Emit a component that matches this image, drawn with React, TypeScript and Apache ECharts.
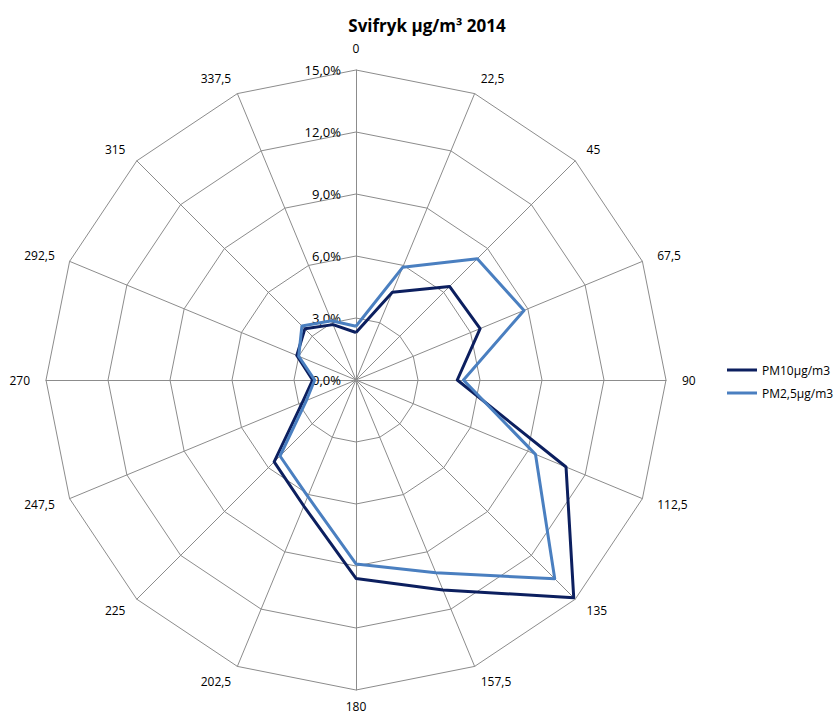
import React, { useEffect, useRef } from "react";
import * as echarts from "echarts";

const directions = ["0", "22,5", "45", "67,5", "90", "112,5", "135", "157,5", "180", "202,5", "225", "247,5", "270", "292,5", "315", "337,5"];
const pm10 = [2.3, 4.6, 6.4, 6.5, 4.9, 11.0, 14.9, 11.0, 9.6, 6.6, 5.6, 2.8, 2.1, 3.1, 3.5, 2.9];
const pm25 = [2.6, 5.9, 8.3, 8.8, 5.2, 9.4, 13.6, 10.1, 8.9, 6.1, 5.2, 2.6, 2.0, 3.0, 3.7, 3.1];
const seriesNames = ["PM10µg/m3", "PM2,5µg/m3"];
const axisMax = 15;
const titleText = "Svifryk µg/m³ 2014";

const FONT = "'Open Sans', 'Noto Sans', sans-serif";

// ECharts radar runs counter-clockwise; reorder so directions run clockwise
const order = directions.map((_, i) => (i === 0 ? 0 : directions.length - i));

export default function App() {
  const ref = useRef<HTMLDivElement>(null);
  useEffect(() => {
    document.body.style.margin = "0";
    const chart = echarts.init(ref.current!, null, { renderer: "svg" });
    chart.setOption({
      animation: false,
      backgroundColor: "#ffffff",
      title: {
        text: titleText,
        left: 422,
        top: 12,
        textAlign: "center",
        textStyle: { fontFamily: FONT, fontSize: 17, fontWeight: "bold", color: "#000" },
      },
      legend: {
        orient: "vertical",
        left: 722,
        top: 359,
        itemWidth: 30,
        itemHeight: 3,
        itemGap: 11,
        icon: "rect",
        textStyle: { fontFamily: FONT, fontSize: 12, color: "#000" },
        data: seriesNames,
      },
      radar: {
        center: [356, 380],
        radius: 310,
        startAngle: 90,
        shape: "polygon",
        splitNumber: 5,
        nameGap: 16,
        axisName: { color: "#000", fontFamily: FONT, fontSize: 12 },
        splitLine: { lineStyle: { color: "#8c8c8c", width: 1 } },
        splitArea: { show: false },
        axisLine: { lineStyle: { color: "#8c8c8c", width: 1 } },
        axisTick: { show: false },
        axisLabel: { show: false },
        indicator: order.map((k, i) => ({
          name: directions[k],
          min: 0,
          max: axisMax,
          ...(directions[k] === "180" ? { nameGap: 10 } : {}),
          ...(i === 0
            ? {
                axisLabel: {
                  show: true,
                  color: "#000",
                  fontFamily: FONT,
                  fontSize: 13,
                  margin: 15,
                  formatter: (v: number) => v.toFixed(1).replace(".", ",") + "%",
                },
              }
            : {}),
        })),
      },
      series: [
        {
          type: "radar",
          symbol: "none",
          data: [
            { name: seriesNames[0], value: order.map((k) => pm10[k]), lineStyle: { color: "#0c1f5f", width: 3 }, itemStyle: { color: "#0c1f5f" } },
            { name: seriesNames[1], value: order.map((k) => pm25[k]), lineStyle: { color: "#4a7fc0", width: 3 }, itemStyle: { color: "#4a7fc0" } },
          ],
        },
      ],
    });
    return () => chart.dispose();
  }, []);
  return <div ref={ref} style={{ width: 840, height: 718 }} />;
}
